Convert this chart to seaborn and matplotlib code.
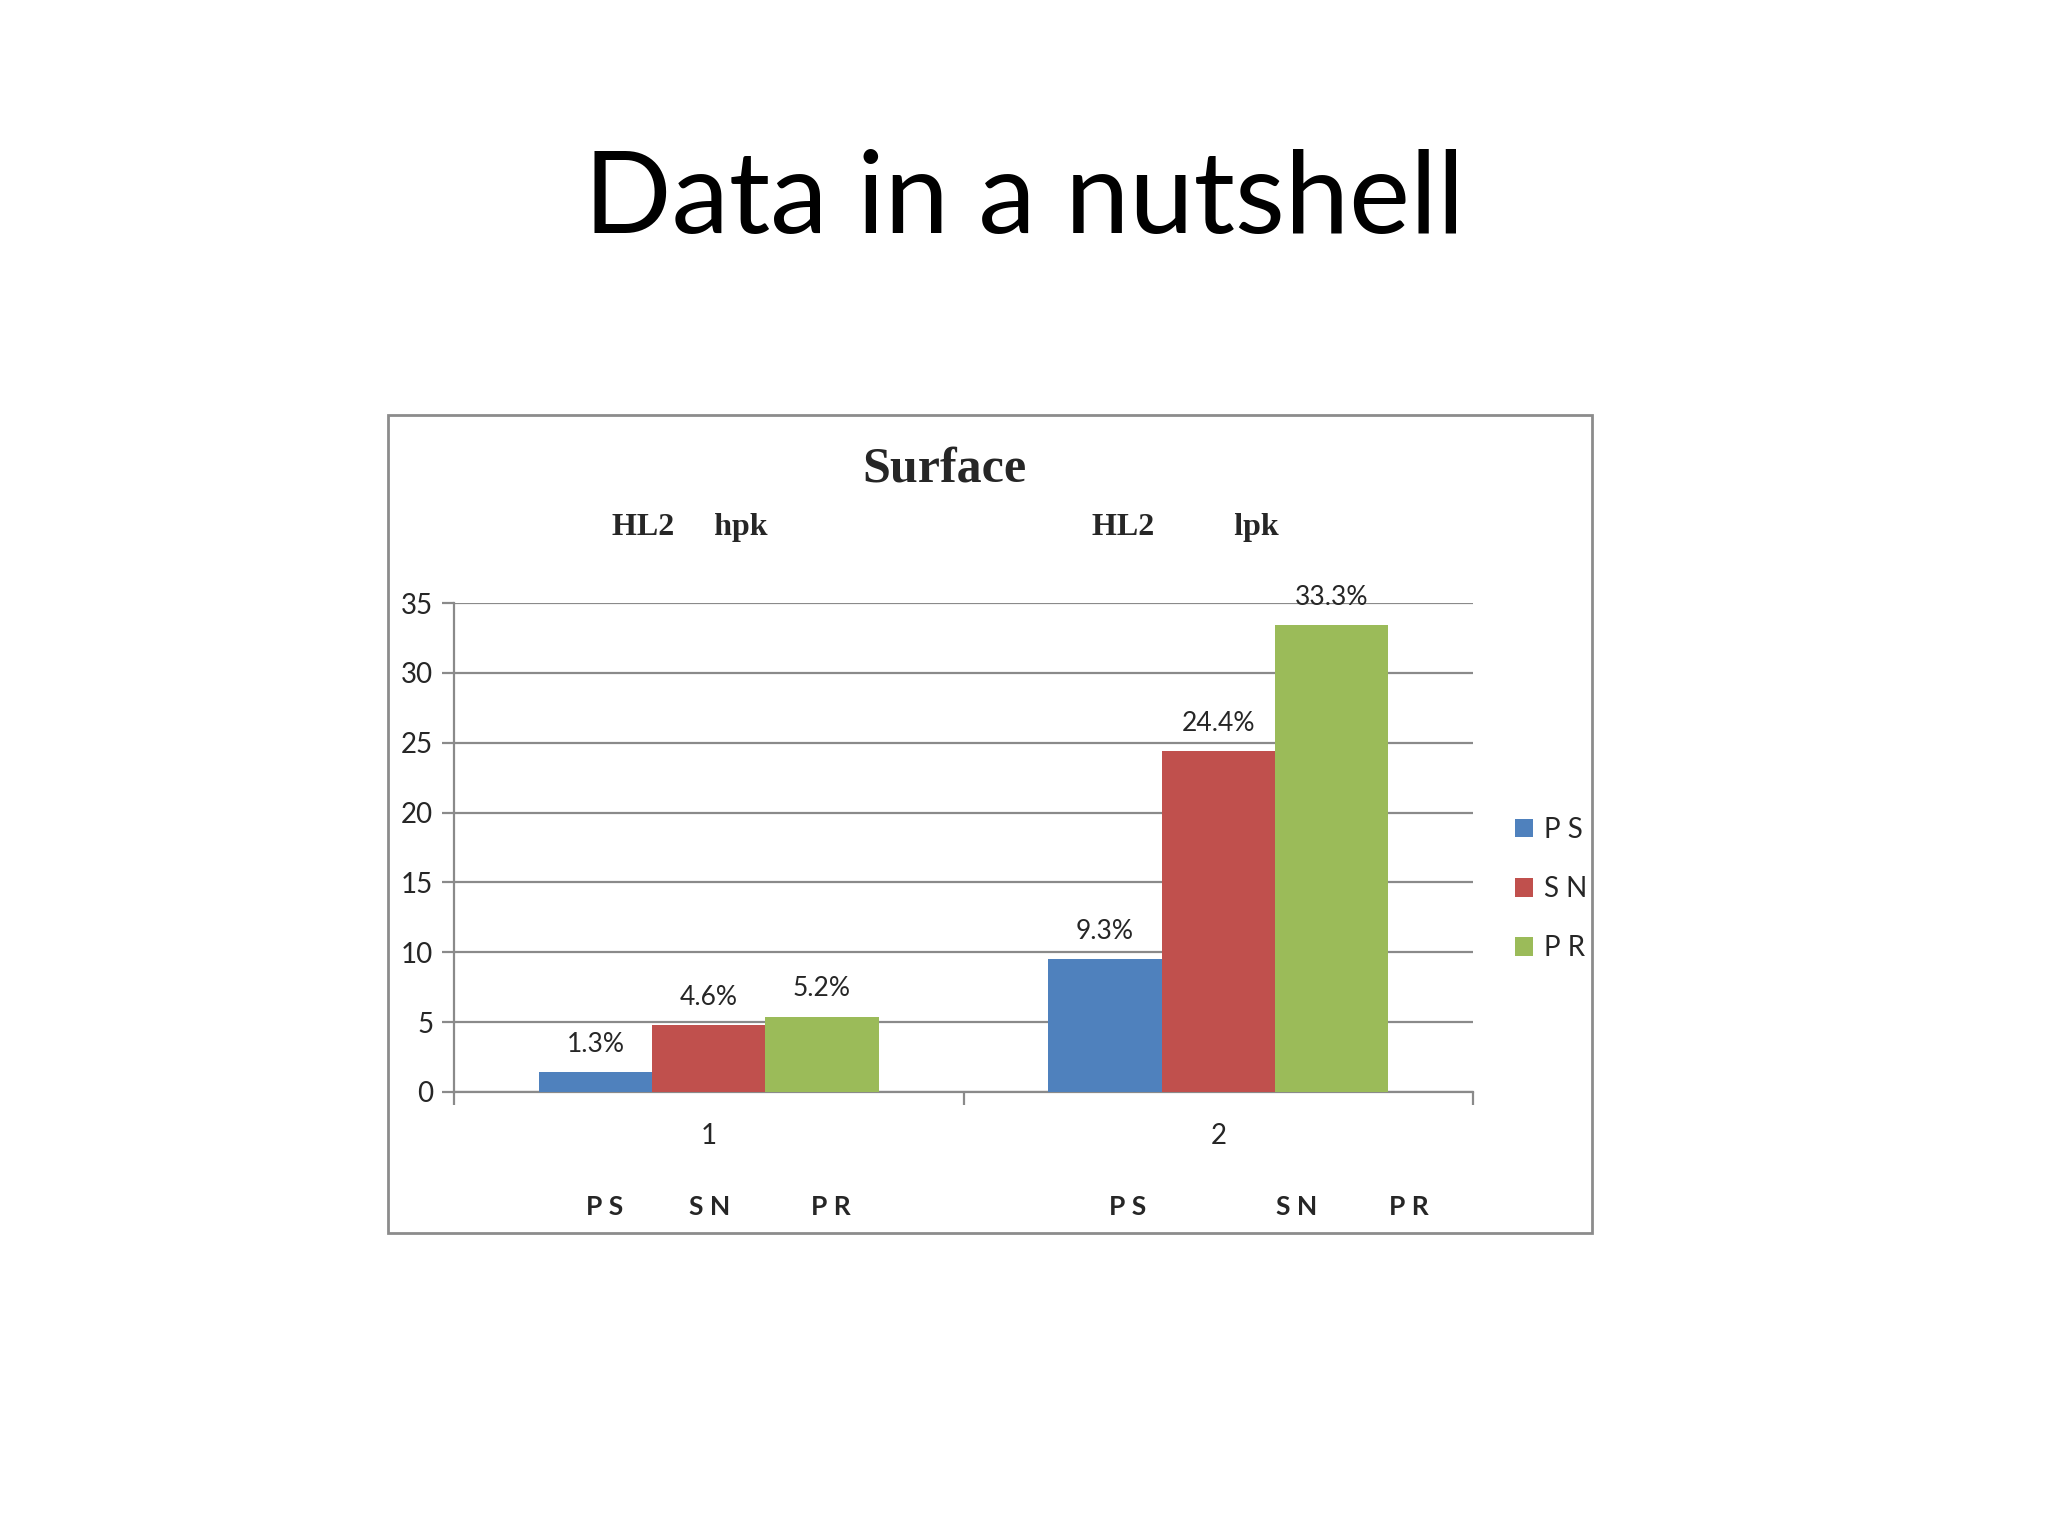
import matplotlib
matplotlib.use("Agg")
import matplotlib.pyplot as plt
import seaborn as sns
import pandas as pd
from matplotlib.patches import Rectangle

categories = ["1", "2"]
series = ["PS", "SN", "PR"]
ps_values = [1.4, 9.5]
sn_values = [4.8, 24.4]
pr_values = [5.4, 33.4]
ps_labels = ["1.3%", "9.3%"]
sn_labels = ["4.6%", "24.4%"]
pr_labels = ["5.2%", "33.3%"]
legend_labels = ["P S", "S N", "P R"]
group_headers = ["HL2     hpk", "HL2          lpk"]
yticks = [0, 5, 10, 15, 20, 25, 30, 35]
colors = ["#4F81BD", "#C0504D", "#9BBB59"]

rows = []
for s, vals in zip(series, [ps_values, sn_values, pr_values]):
    for c, v in zip(categories, vals):
        rows.append({"cat": c, "series": s, "value": v})
df = pd.DataFrame(rows)

sns.set_theme(style="white")
plt.rcParams["font.family"] = ["Lato", "DejaVu Sans"]

fig = plt.figure(figsize=(20.48, 15.36), dpi=100)
fig.patch.set_facecolor("white")

# slide title
fig.text(0.5, 0.869, "Data in a nutshell", ha="center", va="center",
         fontsize=83, color="black")

# chart frame
fig.patches.append(Rectangle((388 / 2048, 1 - 1233 / 1536), (1592 - 388) / 2048,
                             (1233 - 415) / 1536, transform=fig.transFigure,
                             fill=False, edgecolor="#8c8c8c", linewidth=2))

ax = fig.add_axes([454 / 2048, 1 - 1092 / 1536, (1475 - 456) / 2048, (1092 - 603) / 1536])
sns.barplot(data=df, x="cat", y="value", hue="series", order=categories,
            hue_order=series, palette=colors, width=2 / 3, saturation=1,
            edgecolor="none", linewidth=0, ax=ax, legend=False, zorder=3)

ax.set_xlim(-0.5, 1.5)
ax.set_ylim(0, 35)
ax.set_yticks(yticks)
ax.set_yticklabels([str(t) for t in yticks], fontsize=20)
ax.yaxis.grid(True, color="#8a8a8a", linewidth=1.6, zorder=0)
ax.set_axisbelow(True)
for s in ["top", "right"]:
    ax.spines[s].set_visible(False)
for s in ["left", "bottom"]:
    ax.spines[s].set_color("#8a8a8a")
    ax.spines[s].set_linewidth(1.6)
ax.tick_params(axis="y", which="major", length=9, width=1.6, color="#8a8a8a",
               direction="out", left=True, pad=6)
ax.set_xticks([0, 1])
ax.set_xticklabels(categories, fontsize=20)
ax.set_xticks([-0.5, 0.5, 1.5], minor=True)
ax.tick_params(axis="x", which="major", length=0, pad=22)
ax.tick_params(axis="x", which="minor", length=9, width=1.6, color="#8a8a8a",
               direction="out", bottom=True)
ax.set_xlabel("")
ax.set_ylabel("")

# data labels
all_labels = [ps_labels, sn_labels, pr_labels]
for container, labs in zip(ax.containers, all_labels):
    ax.bar_label(container, labels=labs, padding=11, fontsize=19)

# axis title & headers
fig.text(944 / 2048, 1 - 470 / 1536, "Surface", ha="center", va="center",
         fontsize=36, fontweight="bold", family="Liberation Serif")
fig.text(690 / 2048, 1 - 528 / 1536, group_headers[0], ha="center", va="center",
         fontsize=23, fontweight="bold", family="Liberation Serif")
fig.text(1185 / 2048, 1 - 528 / 1536, group_headers[1], ha="center", va="center",
         fontsize=23, fontweight="bold", family="Liberation Serif")

# lower category labels
lower_x = [605, 710, 831, 1128, 1297, 1409]
lower_t = ["P S", "S N", "P R", "P S", "S N", "P R"]
for xx, tt in zip(lower_x, lower_t):
    fig.text(xx / 2048, 1 - 1207 / 1536, tt, ha="center", va="center",
             fontsize=19, fontweight="bold")

# legend
handles = [Rectangle((0, 0), 1, 1, facecolor=c, edgecolor="none") for c in colors]
fig.legend(handles, legend_labels, loc="center left",
           bbox_to_anchor=(1490 / 2048, 1 - 889 / 1536), frameon=False,
           fontsize=20, handlelength=0.65, handleheight=0.65, handletextpad=0.4,
           labelspacing=1.2)

fig.savefig("out.png", dpi=100, facecolor="white")
